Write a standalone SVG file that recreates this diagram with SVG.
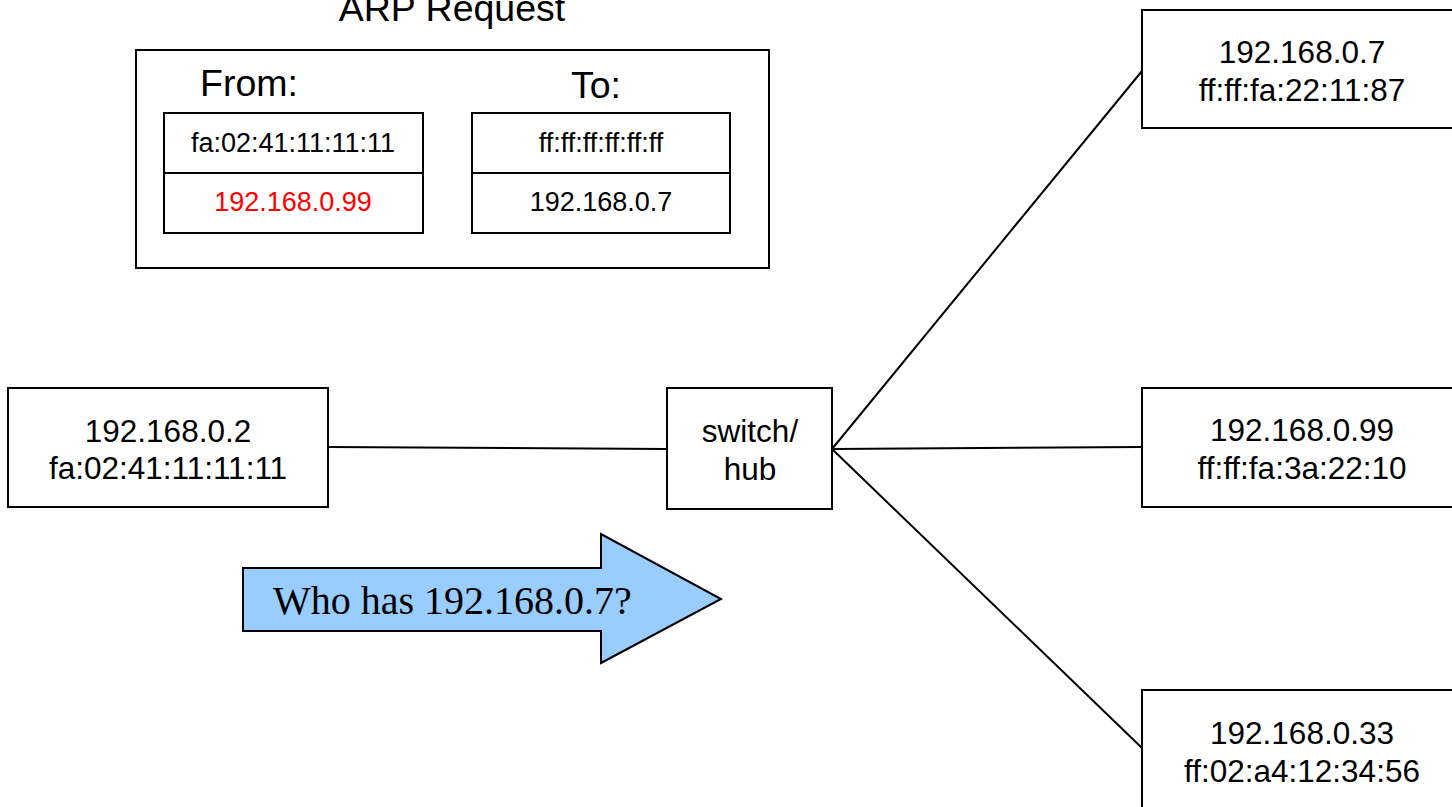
<svg xmlns="http://www.w3.org/2000/svg" width="1452" height="807" viewBox="0 0 1452 807">
  <style>
    .box { fill: #ffffff; stroke: #000000; stroke-width: 2; }
    .t { font-family: "Liberation Sans", Arial, sans-serif; fill: #000000; text-anchor: middle; }
    .node { font-size: 31.5px; }
    .cell { font-size: 27px; }
    .head { font-size: 37.5px; }
    .wire { stroke: #000000; stroke-width: 2; fill: none; }
  </style>
  <rect width="1452" height="807" fill="#ffffff"/>

  <!-- ARP request packet -->
  <g id="arp-request">
    <text class="t head" x="452" y="21">ARP Request</text>
    <rect class="box" x="136" y="50" width="633" height="218"/>
    <text class="t head" x="249" y="96">From:</text>
    <text class="t head" x="596" y="98">To:</text>
    <g id="from-fields">
      <rect class="box" x="164" y="113" width="259" height="60"/>
      <rect class="box" x="164" y="173" width="259" height="60"/>
      <text class="t cell" x="293" y="152">fa:02:41:11:11:11</text>
      <text class="t cell" x="293" y="211" style="fill:#ff0000">192.168.0.99</text>
    </g>
    <g id="to-fields">
      <rect class="box" x="472" y="113" width="258" height="60"/>
      <rect class="box" x="472" y="173" width="258" height="60"/>
      <text class="t cell" x="601" y="152">ff:ff:ff:ff:ff:ff</text>
      <text class="t cell" x="601" y="211">192.168.0.7</text>
    </g>
  </g>

  <!-- links -->
  <g id="connectors">
    <line class="wire" x1="328" y1="447" x2="667" y2="449"/>
    <line class="wire" x1="832" y1="449" x2="1142" y2="71"/>
    <line class="wire" x1="832" y1="449" x2="1142" y2="447"/>
    <line class="wire" x1="832" y1="449" x2="1142" y2="748"/>
  </g>

  <g id="host-sender">
    <rect class="box" x="8" y="388" width="320" height="119"/>
    <text class="t node" x="168" y="442">192.168.0.2</text>
    <text class="t node" x="168" y="479">fa:02:41:11:11:11</text>
  </g>

  <g id="switch">
    <rect class="box" x="667" y="388" width="165" height="121"/>
    <text class="t node" x="750" y="442">switch/</text>
    <text class="t node" x="750" y="480">hub</text>
  </g>

  <g id="host-7">
    <rect class="box" x="1142" y="10" width="320" height="118"/>
    <text class="t node" x="1302" y="63">192.168.0.7</text>
    <text class="t node" x="1302" y="101">ff:ff:fa:22:11:87</text>
  </g>

  <g id="host-99">
    <rect class="box" x="1142" y="388" width="320" height="119"/>
    <text class="t node" x="1302" y="441">192.168.0.99</text>
    <text class="t node" x="1302" y="479">ff:ff:fa:3a:22:10</text>
  </g>

  <g id="host-33">
    <rect class="box" x="1142" y="690" width="320" height="130"/>
    <text class="t node" x="1302" y="744">192.168.0.33</text>
    <text class="t node" x="1302" y="782">ff:02:a4:12:34:56</text>
  </g>

  <!-- broadcast direction -->
  <g id="request-arrow">
    <polygon points="243,568 601,568 601,534 721,599 601,663 601,631 243,631" fill="#99ccff" stroke="#000000" stroke-width="2" stroke-linejoin="miter"/>
    <text x="273" y="614" font-family="Liberation Serif, 'Times New Roman', serif" font-size="40" fill="#000000">Who has 192.168.0.7?</text>
  </g>
</svg>
